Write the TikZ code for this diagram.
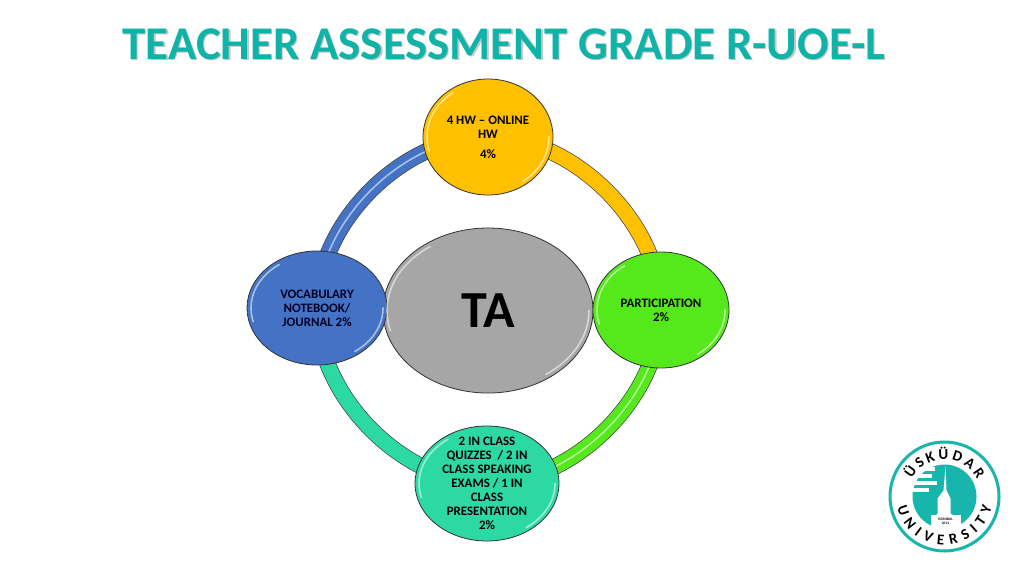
\documentclass[tikz,border=0pt]{standalone}
\usepackage{fontspec}
\setmainfont{Carlito}
\usetikzlibrary{shapes.geometric,backgrounds,calc,decorations.text}
\definecolor{titleTeal}{HTML}{0FB3A8}
\definecolor{hwYellow}{HTML}{FFC000}
\definecolor{partGreen}{HTML}{55E81A}
\definecolor{examTeal}{HTML}{2DD9A3}
\definecolor{vocabBlue}{HTML}{4472C4}
\definecolor{taGray}{HTML}{A6A6A6}
\definecolor{logoTeal}{HTML}{18B5AC}
\tikzset{
  ringnode/.style={ellipse,draw=black!80,line width=.8pt,align=center,inner sep=-30pt,
    font=\fontsize{12.9}{14}\selectfont\bfseries},
  ringarc/.style={draw=black!75,line width=.7pt,double distance=15pt},
  gloss/.style={draw=white,opacity=.55,line width=1.6pt,line cap=round}
}
\begin{document}
\begin{tikzpicture}[x=1pt,y=1pt]
\useasboundingbox (0,0) rectangle (1024,-576);

\node (title) at (504,-45) [text=titleTeal,font=\fontsize{46.9}{47}\selectfont\bfseries]
  {\makebox[0pt][l]{\raisebox{-1.2pt}{\kern1.2pt\textcolor{black!22}{TEACHER ASSESSMENT GRADE R-UOE-L}}}TEACHER ASSESSMENT GRADE R-UOE-L};

\node (center) at (488,-310.5) [ringnode,fill=taGray,minimum width=210pt,minimum height=165pt,font=\fontsize{52}{52}\selectfont\bfseries] {TA};
\node (hw) at (488,-137) [ringnode,fill=hwYellow,minimum width=130pt,minimum height=116pt]
  {4 HW -- ONLINE\\HW\\[6pt]4\%};
\node (part) at (661,-310) [ringnode,fill=partGreen,minimum width=136pt,minimum height=116pt]
  {PARTICIPATION\\2\%};
\node (exam) at (487,-483.5) [ringnode,fill=examTeal,minimum width=144pt,minimum height=115pt]
  {2 IN CLASS\\QUIZZES~ / 2 IN\\CLASS SPEAKING\\EXAMS / 1 IN\\CLASS\\PRESENTATION\\2\%};
\node (vocab) at (317,-308) [ringnode,fill=vocabBlue,minimum width=140pt,minimum height=114pt,text=black!85!blue]
  {VOCABULARY\\NOTEBOOK/\\JOURNAL 2\%};

%% draw the ring between the circles
\begin{scope}[on background layer]
\foreach \nodeA/\nodeB/\col in {hw/part/hwYellow,part/exam/partGreen,exam/vocab/examTeal,vocab/hw/vocabBlue}
  \draw [ringarc,double=\col] (\nodeA.center) to[bend left=45,looseness=.9] (\nodeB.center);
\foreach \nodeA/\nodeB in {part/exam,vocab/hw}
  \draw [gloss] (\nodeA.center) to[bend left=45,looseness=.9] (\nodeB.center);
\end{scope}

%% draw the shine on each circle
\foreach \nd/\rx/\ry in {hw/61/54,part/64/54,exam/68/54,vocab/66/53,center/101/78}
{
  \draw [gloss] ($(\nd.center)+(125:\rx pt and \ry pt)$) arc [start angle=125,end angle=195,x radius=\rx pt,y radius=\ry pt];
  \draw [gloss] ($(\nd.center)+(-55:\rx pt and \ry pt)$) arc [start angle=-55,end angle=0,x radius=\rx pt,y radius=\ry pt];
}

%% draw the logo
\begin{scope}[shift={(944.5,-496.5)}]
\coordinate (logo) at (0,0);
\draw [logoTeal,line width=3pt] (logo) circle [radius=54.5];
\fill [logoTeal] (logo) circle [radius=32];
%% the white bars and the base of the tower
\foreach \yy/\xa/\xb in {26/-36/-10,19/-36/-13,12/-36/-8,5/-36/-16}
  \fill [white] (\xa,\yy) rectangle (\xb,\yy+3.5);
\fill [white] (-14,-18) rectangle (16,-34);
\fill [white] (-1,6) -- (1,30) -- (2,6) -- (6,-2) -- (6,-17) -- (9,-19) -- (-9,-19) -- (-7,-17) -- (-7,-2) -- cycle;
\node (year) at (1,-25) [align=center,inner sep=0pt,font=\fontsize{3.6}{4}\selectfont\bfseries] {ISTANBUL\\2011};
\path [decoration={text along path,text={|\fontsize{15}{15}\selectfont\bfseries|ÜSKÜDAR},text align={fit to path}},decorate] (152:37) arc [start angle=152,end angle=28,radius=37];
\path [decoration={text along path,text={|\fontsize{15}{15}\selectfont\bfseries|UNIVERSITY},text align={fit to path}},decorate] (193:48.5) arc [start angle=193,end angle=347,radius=48.5];
\end{scope}
\end{tikzpicture}
\end{document}
